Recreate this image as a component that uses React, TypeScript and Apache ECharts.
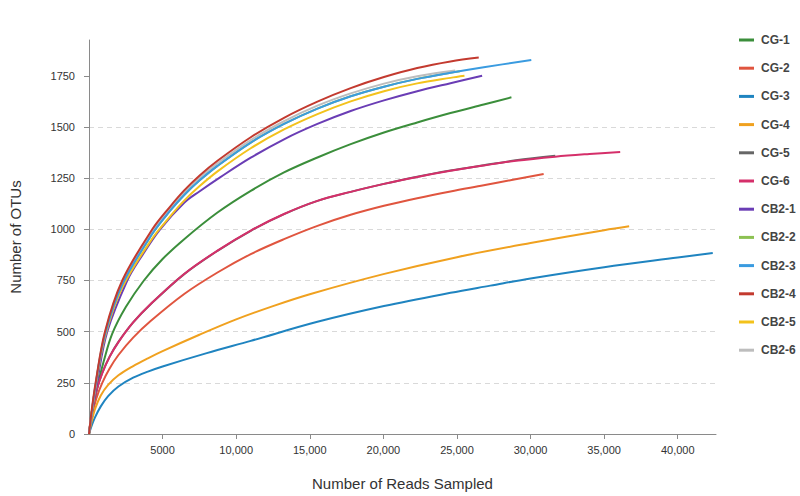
import React, { useEffect, useRef } from "react";
import * as echarts from "echarts";

const seriesNames = ["CG-1", "CG-2", "CG-3", "CG-4", "CG-5", "CG-6", "CB2-1", "CB2-2", "CB2-3", "CB2-4", "CB2-5", "CB2-6"];
const seriesColors = ["#3b8e3b", "#e0553f", "#1f84c0", "#f0a11f", "#666666", "#d52f6a", "#6a3db5", "#8cc152", "#3a9be0", "#c33a2f", "#f3c21b", "#bdbdbd"];

const CG1 = [[0, 0], [300, 130], [630, 250], [1000, 355], [1580, 490], [2500, 620], [3730, 750], [5000, 855], [6467, 952], [8730, 1082], [10990, 1188], [13250, 1278], [15520, 1351], [17780, 1416], [20040, 1473], [22300, 1522], [24560, 1568], [26820, 1610], [28700, 1645]];
const CG2 = [[0, 0], [200, 90], [500, 174], [900, 250], [1400, 320], [2000, 386], [3000, 471], [4206, 553], [6467, 684], [8730, 789], [10990, 879], [13250, 952], [15520, 1017], [17780, 1071], [20040, 1115], [22300, 1152], [24560, 1185], [26820, 1215], [28800, 1242], [30890, 1270]];
const CG3 = [[0, 0], [150, 35], [400, 80], [800, 135], [1300, 185], [2000, 232], [3000, 275], [4000, 305], [5000, 330], [8000, 395], [10990, 455], [15520, 548], [20040, 625], [24560, 690], [27270, 725], [30000, 760], [35000, 815], [40000, 862], [42380, 884]];
const CG4 = [[0, 0], [150, 52], [400, 120], [800, 188], [1300, 240], [2000, 287], [3000, 332], [4000, 370], [5000, 405], [7500, 485], [10000, 560], [12500, 625], [15000, 683], [20000, 781], [25000, 864], [30000, 933], [35000, 996], [36700, 1015]];
const CG5 = [[0, 0], [200, 111], [500, 210], [900, 298], [1400, 378], [2000, 450], [3000, 545], [4206, 635], [6467, 781], [8730, 895], [10990, 993], [13250, 1074], [15520, 1139], [17780, 1183], [20040, 1222], [22300, 1257], [24560, 1287], [26820, 1313], [29000, 1337], [31680, 1359]];
const CG6 = [[0, 0], [200, 110], [500, 209], [900, 297], [1400, 377], [2000, 449], [3000, 545], [4206, 636], [6467, 782], [8730, 896], [10990, 994], [13250, 1075], [15520, 1139], [17780, 1183], [20040, 1222], [22300, 1256], [24560, 1286], [26820, 1312], [29000, 1335], [31680, 1355], [34000, 1368], [36090, 1378]];
const CB21 = [[0, 0], [250, 125], [540, 250], [1240, 500], [2600, 750], [3500, 860], [4830, 1000], [6467, 1130], [7500, 1185], [8930, 1255], [10990, 1350], [13250, 1440], [15520, 1515], [17780, 1578], [20040, 1630], [22300, 1675], [24560, 1714], [26710, 1750]];
const CB22 = [[0, 0], [450, 240], [1085, 485], [2260, 730], [4300, 978], [5500, 1090], [6467, 1168], [7500, 1238], [8730, 1310], [10990, 1424], [13250, 1515], [15520, 1590], [17780, 1650], [20040, 1697], [22300, 1735], [24560, 1765], [25200, 1772]];
const CB23 = [[0, 0], [450, 240], [1085, 485], [2260, 730], [4300, 978], [5500, 1090], [6467, 1168], [7500, 1238], [8730, 1310], [10990, 1424], [13250, 1515], [15520, 1590], [17780, 1650], [20040, 1697], [22300, 1735], [24560, 1765], [26820, 1792], [30050, 1827]];
const CB24 = [[0, 0], [200, 125], [450, 250], [1085, 500], [2260, 750], [4300, 1000], [5500, 1110], [6467, 1190], [7500, 1262], [8730, 1335], [10990, 1450], [13250, 1545], [15520, 1624], [17780, 1690], [20040, 1744], [22300, 1788], [24560, 1820], [26480, 1839]];
const CB25 = [[0, 0], [450, 232], [1085, 475], [2260, 715], [4300, 955], [5500, 1062], [6467, 1140], [7500, 1210], [8730, 1283], [10990, 1396], [13250, 1488], [15520, 1563], [17780, 1625], [20040, 1675], [22300, 1713], [24560, 1740], [25510, 1750]];
const CB26 = [[0, 0], [450, 245], [1085, 492], [2260, 740], [4300, 988], [5500, 1100], [6467, 1180], [7500, 1250], [8730, 1322], [10990, 1436], [13250, 1528], [15520, 1604], [17780, 1664], [20040, 1712], [22300, 1748], [24880, 1776]];

const seriesData = [CG1, CG2, CG3, CG4, CG5, CG6, CB21, CB22, CB23, CB24, CB25, CB26];
// drawing order (later on top)
const drawOrder = [7, 0, 1, 2, 3, 4, 5, 6, 10, 11, 8, 9];

const xTickValues = [5000, 10000, 15000, 20000, 25000, 30000, 35000, 40000];
const yTickValues = [0, 250, 500, 750, 1000, 1250, 1500, 1750];

const FONT = "'Liberation Sans', Arial, Helvetica, sans-serif";

export default function App() {
  const ref = useRef<HTMLDivElement>(null);
  useEffect(() => {
    if (!ref.current) return;
    const chart = echarts.init(ref.current, null, { renderer: "svg" });
    const series = drawOrder.map((i) => ({
      name: seriesNames[i],
      type: "line",
      data: seriesData[i],
      smooth: 0.35,
      symbol: "none",
      lineStyle: { width: 2, color: seriesColors[i] },
      itemStyle: { color: seriesColors[i] },
      z: 2,
    }));
    chart.setOption({
      animation: false,
      backgroundColor: "#ffffff",
      textStyle: { fontFamily: FONT },
      grid: { left: 89, right: 84, top: 40, bottom: 61, containLabel: false },
      legend: {
        data: seriesNames,
        orient: "vertical",
        left: 734,
        top: 29,
        padding: 5,
        icon: "rect",
        itemWidth: 15,
        itemHeight: 3,
        itemGap: 16.2,
        itemStyle: { borderWidth: 0 },
        textStyle: { fontSize: 12, fontWeight: "bold", color: "#444", fontFamily: FONT, padding: [0, 0, 0, 2] },
      },
      xAxis: {
        type: "value",
        min: 0,
        max: 42600,
        interval: 5000,
        name: "Number of Reads Sampled",
        nameLocation: "middle",
        nameGap: 42,
        nameTextStyle: { fontSize: 15, color: "#333", fontFamily: FONT },
        axisLine: { show: true, lineStyle: { color: "#8a8a8a", width: 1 } },
        axisTick: { show: true, length: 5, customValues: xTickValues, lineStyle: { color: "#8a8a8a" } },
        axisLabel: {
          customValues: xTickValues,
          margin: 10,
          fontSize: 11,
          color: "#333",
          formatter: (v: number) => (v < 10000 ? String(v) : v.toLocaleString("en-US")),
        },
        splitLine: { show: false },
      },
      yAxis: {
        type: "value",
        min: 0,
        max: 1925,
        interval: 250,
        name: "Number of OTUs",
        nameLocation: "middle",
        nameGap: 66,
        nameRotate: 90,
        nameTextStyle: { fontSize: 15, color: "#333", fontFamily: FONT },
        axisLine: { show: true, lineStyle: { color: "#8a8a8a", width: 1 } },
        axisTick: { show: true, length: 5, customValues: yTickValues, lineStyle: { color: "#8a8a8a" } },
        axisLabel: {
          customValues: yTickValues,
          margin: 14,
          fontSize: 11,
          color: "#333",
          formatter: (v: number) => String(v),
        },
        splitLine: {
          show: true,
          showMinLine: false,
          showMaxLine: false,
          lineStyle: { color: "#d9d9d9", type: [5, 4], width: 1 },
        },
      },
      series,
    });
    return () => chart.dispose();
  }, []);
  return <div ref={ref} style={{ position: "absolute", left: 0, top: 0, width: 800, height: 496 }} />;
}
